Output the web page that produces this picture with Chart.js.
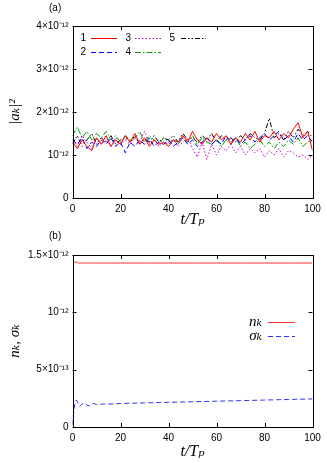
<!DOCTYPE html>
<html>
<head>
<meta charset="utf-8">
<script src="https://cdn.jsdelivr.net/npm/chart.js@4.4.1/dist/chart.umd.min.js"></script>
<style>
html,body{margin:0;padding:0;background:#fff;}
#wrap{position:relative;width:327px;height:463px;overflow:hidden;}
canvas{position:absolute;left:0;}
.pl{position:absolute;font:10px "Liberation Sans",Arial,sans-serif;color:#000;}
</style>
</head>
<body>
<div id="wrap">
<canvas id="ca" width="327" height="232" style="top:0"></canvas>
<canvas id="cb" width="327" height="235" style="top:228px"></canvas>
<div class="pl" style="left:49px;top:2px">(a)</div>
<div class="pl" style="left:49px;top:230px">(b)</div>
</div>
<script>
// ---------- data (values in units of 1e-12) ----------
const tA = [0,2,4,6,8,10,12,14,16,18,20,22,24,26,28,30,32,34,36,38,40,42,44,46,48,50,
            52,54,56,58,60,62,64,66,68,70,72,74,76,78,80,82,84,86,88,90,92,94,96,98,100];
const mode1 = [1.30,1.15,1.35,1.20,1.10,1.40,1.25,1.45,1.20,1.35,1.25,1.45,1.30,1.50,1.25,1.40,1.20,1.35,1.25,1.30,1.20,1.35,1.30,1.45,1.30,1.55,
               1.35,1.25,1.40,1.30,1.50,1.35,1.45,1.25,1.40,1.30,1.50,1.35,1.55,1.30,1.45,1.40,1.55,1.35,1.50,1.40,1.60,1.75,1.40,1.55,1.10];
const mode2 = [1.35,1.25,1.40,1.15,1.30,1.20,1.35,1.25,1.40,1.20,1.30,1.05,1.30,1.20,1.35,1.25,1.40,1.20,1.30,1.25,1.35,1.20,1.30,1.40,1.25,1.35,
               1.20,1.30,1.40,1.25,1.35,1.25,1.45,1.30,1.40,1.25,1.35,1.45,1.30,1.40,1.50,1.35,1.45,1.55,1.35,1.45,1.30,1.50,1.35,1.45,1.30];
const mode3 = [1.35,1.20,1.45,1.30,1.15,1.40,1.25,1.35,1.20,1.40,1.25,1.35,1.25,1.40,1.30,1.55,1.25,1.35,1.20,1.30,1.25,1.35,1.20,1.30,1.40,1.15,
               0.95,1.30,0.90,1.25,1.00,1.20,1.10,1.25,1.05,1.20,1.00,1.15,1.05,1.15,0.95,1.10,1.00,1.15,0.95,1.10,1.05,0.95,1.00,0.90,1.00];
const mode4 = [1.45,1.65,1.40,1.55,1.35,1.50,1.40,1.55,1.35,1.45,1.30,1.45,1.35,1.40,1.55,1.30,1.45,1.35,1.25,1.40,1.30,1.35,1.25,1.40,1.30,1.45,
               1.25,1.40,1.30,1.25,1.35,1.20,1.35,1.25,1.40,1.20,1.30,1.15,1.25,1.35,1.20,1.30,1.15,1.30,1.20,1.35,1.25,1.40,1.20,1.30,1.35];
const mode5 = [1.25,1.45,1.20,1.35,1.50,1.25,1.40,1.30,1.45,1.25,1.35,1.40,1.30,1.45,1.25,1.35,1.30,1.45,1.30,1.40,1.35,1.45,1.30,1.50,1.35,1.40,
               1.30,1.45,1.35,1.50,1.30,1.45,1.35,1.40,1.30,1.45,1.35,1.50,1.40,1.35,1.50,1.85,1.40,1.50,1.35,1.55,1.40,1.60,1.45,1.55,1.40];
const modeNames = ['1','2','3','4','5'];

const tB = [0,0.5,1,1.5,2,2.5,3,3.5,4,5,6,7,8,9,10,12,15,20,30,40,50,60,70,80,90,100];
const nK = [1.42,1.43,1.44,1.44,1.435,1.43,1.43,1.43,1.43,1.43,1.43,1.43,1.43,1.43,1.43,1.43,1.43,1.43,1.43,1.43,1.43,1.43,1.43,1.43,1.43,1.43];
const sigmaK = [0.02,0.13,0.20,0.235,0.225,0.195,0.18,0.19,0.20,0.21,0.19,0.185,0.20,0.205,0.195,0.20,0.20,0.205,0.21,0.215,0.22,0.225,0.23,0.235,0.24,0.245];

const xTicks = [0,20,40,60,80,100];
const yTicksA = [0,1,2,3,4];
const yLabelsA = ['0','10⁻¹²','2×10⁻¹²','3×10⁻¹²','4×10⁻¹²'];
const yTicksB = [0,0.5,1,1.5];
const yLabelsB = ['0','5×10⁻¹³','10⁻¹²','1.5×10⁻¹²'];

// ---------- helpers ----------
const SANS = '"Liberation Sans", Arial, sans-serif';
const SERIF = '"Liberation Serif", "DejaVu Serif", serif';
function pts(xs, ys){ return xs.map((x,i)=>({x:x,y:ys[i]})); }

const framePlugin = {
  id:'frame',
  afterDatasetsDraw(chart){
    const ctx = chart.ctx, a = chart.chartArea;
    const xs = chart.scales.x, ys = chart.scales.y;
    ctx.save();
    ctx.strokeStyle = '#000'; ctx.lineWidth = 1;
    ctx.strokeRect(Math.round(a.left)+0.5, Math.round(a.top)+0.5, Math.round(a.right-a.left), Math.round(a.bottom-a.top));
    ctx.beginPath();
    const L = 4;
    xs.ticks.forEach(t=>{
      const px = Math.round(xs.getPixelForValue(t.value))+0.5;
      ctx.moveTo(px, a.bottom); ctx.lineTo(px, a.bottom-L);
      ctx.moveTo(px, a.top); ctx.lineTo(px, a.top+L);
    });
    ys.ticks.forEach(t=>{
      const py = Math.round(ys.getPixelForValue(t.value))+0.5;
      ctx.moveTo(a.left, py); ctx.lineTo(a.left+L, py);
      ctx.moveTo(a.right, py); ctx.lineTo(a.right-L, py);
    });
    ctx.stroke();
    // legend
    const lg = chart.options.plugins.gpLegend;
    if (lg) {
      lg.items.forEach(it=>{
        const ds = chart.data.datasets[it.ds];
        ctx.font = it.font; ctx.fillStyle = '#000';
        ctx.textAlign = 'right'; ctx.textBaseline = 'middle';
        ctx.fillText(ds.label, it.tx, it.y);
        ctx.beginPath();
        ctx.strokeStyle = ds.borderColor; ctx.lineWidth = ds.borderWidth;
        ctx.setLineDash(ds.borderDash || []);
        ctx.moveTo(it.x0, it.y+0.5); ctx.lineTo(it.x1, it.y+0.5);
        ctx.stroke();
        ctx.setLineDash([]);
      });
    }
    ctx.restore();
  }
};

function baseScales(yTicks, yLabels, ymax, xAxisH, titleY, titleYpad, titleXpad){
  return {
    x:{
      type:'linear', min:0, max:100,
      afterBuildTicks(s){ s.ticks = xTicks.map(v=>({value:v})); },
      afterFit(s){ s.height = xAxisH; },
      grid:{display:false, drawTicks:false},
      border:{display:false},
      ticks:{font:{family:SANS,size:10}, color:'#000', padding:5, maxRotation:0, callback:(v)=>String(v)},
      title:{display:true, text:'t/Tₚ', font:{family:SERIF,size:16,style:'italic'}, color:'#000', padding:{top:0,bottom:titleXpad}}
    },
    y:{
      type:'linear', min:0, max:ymax,
      afterBuildTicks(s){ s.ticks = yTicks.map(v=>({value:v})); },
      afterFit(s){ s.width = 72.5; },
      grid:{display:false, drawTicks:false},
      border:{display:false},
      ticks:{font:{family:SANS,size:10}, color:'#000', padding:4,
             callback:(v)=>{ const i = yTicks.indexOf(v); return i>=0 ? yLabels[i] : ''; }},
      title:{display:true, text:titleY, font:{family:SERIF,size:15,style:'italic'}, color:'#000', padding:{top:titleYpad,bottom:0}}
    }
  };
}

const colors = ['#ff0000','#0000ff','#c000c0','#009900','#000000'];
const dashes = [[], [5,3], [1.5,2], [6,2,1.5,2], [5,2,1.5,2,1.5,2]];
const series = [mode1, mode2, mode3, mode4, mode5];

new Chart(document.getElementById('ca'), {
  type:'line',
  data:{ datasets: series.map((s,i)=>({
    label: modeNames[i], data: pts(tA, s), borderColor: colors[i], borderWidth:1,
    borderDash: dashes[i], pointRadius:0, tension:0, fill:false
  }))},
  options:{
    responsive:false, animation:false, devicePixelRatio:1,
    layout:{padding:{top:26,right:14.5,left:0,bottom:0}},
    plugins:{legend:{display:false}, tooltip:{enabled:false},
      gpLegend:{items:[
        {ds:0, tx:86, x0:91, x1:117, y:38, font:'10px '+SANS},
        {ds:2, tx:131, x0:135, x1:161, y:38, font:'10px '+SANS},
        {ds:4, tx:175, x0:181, x1:206, y:38, font:'10px '+SANS},
        {ds:1, tx:86, x0:91, x1:117, y:52, font:'10px '+SANS},
        {ds:3, tx:131, x0:135, x1:161, y:52, font:'10px '+SANS}
      ]}},
    scales: baseScales(yTicksA, yLabelsA, 4, 34, '|aₖ|²', 6, 2.4)
  },
  plugins:[framePlugin]
});

new Chart(document.getElementById('cb'), {
  type:'line',
  data:{ datasets:[
    {label:'nₖ', data: pts(tB, nK), borderColor:'#ff3030', borderWidth:1, pointRadius:0, tension:0, fill:false},
    {label:'σₖ', data: pts(tB, sigmaK), borderColor:'#3030ff', borderWidth:1, borderDash:[5,3], pointRadius:0, tension:0, fill:false}
  ]},
  options:{
    responsive:false, animation:false, devicePixelRatio:1,
    layout:{padding:{top:27,right:14.5,left:0,bottom:0}},
    plugins:{legend:{display:false}, tooltip:{enabled:false},
      gpLegend:{items:[
        {ds:0, tx:262, x0:268, x1:295, y:94, font:'italic 15px '+SERIF},
        {ds:1, tx:262, x0:268, x1:295, y:108, font:'italic 15px '+SERIF}
      ]}},
    scales: baseScales(yTicksB, yLabelsB, 1.5, 36, 'nₖ, σₖ', 6, 1.4)
  },
  plugins:[framePlugin]
});
</script>
</body>
</html>
